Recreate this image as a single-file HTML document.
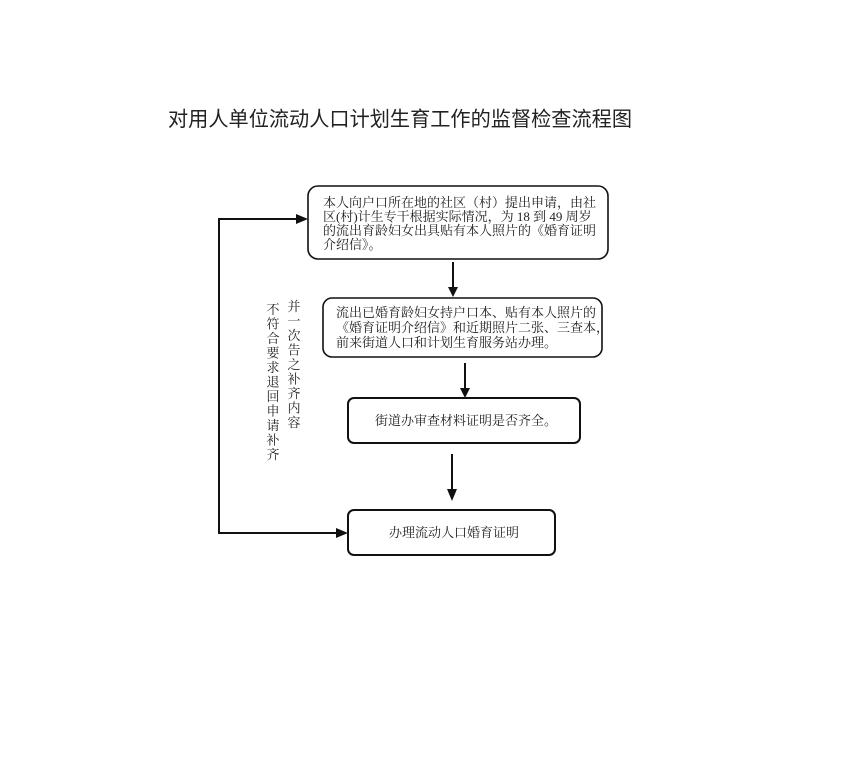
<!DOCTYPE html>
<html><head><meta charset="utf-8"><style>
html,body{margin:0;padding:0;background:#fff;}
svg{display:block;}
text{font-family:"Liberation Serif","Noto Serif CJK SC",serif;fill:#222;}
</style></head><body>
<svg width="847" height="779" viewBox="0 0 847 779" xmlns="http://www.w3.org/2000/svg">
<text x="168" y="126" font-size="20.5" textLength="464" lengthAdjust="spacingAndGlyphs" style="font-family:'Liberation Sans','Noto Sans CJK SC',sans-serif">对用人单位流动人口计划生育工作的监督检查流程图</text>

<g fill="none" stroke="#111" stroke-width="1.6">
<rect x="308" y="186" width="300" height="73" rx="10"/>
<rect x="323" y="298" width="279" height="59" rx="9"/>
<rect x="348" y="398" width="232" height="45" rx="6" stroke-width="2"/>
<rect x="348" y="510" width="207" height="45" rx="6" stroke-width="2"/>
</g>
<g stroke="#111" stroke-width="2" fill="none">
<line x1="453" y1="262" x2="453" y2="288"/>
<line x1="465" y1="363" x2="465" y2="390"/>
<line x1="452" y1="454" x2="452" y2="490"/>
<polyline points="298,219 219,219 219,533 338,533"/>
</g>
<g fill="#111">
<polygon points="448,287 458,287 453,297"/>
<polygon points="460,388 470,388 465,398"/>
<polygon points="447,489 457,489 452,501"/>
<polygon points="296,214 308,219 296,224"/>
<polygon points="336,528 348,533 336,538"/>
</g>

<g font-size="13">
<text x="323" y="207">本人向户口所在地的社区（村）提出申请，由社</text>
<text x="323" y="221">区(村)计生专干根据实际情况，为 18 到 49 周岁</text>
<text x="323" y="235">的流出育龄妇女出具贴有本人照片的《婚育证明</text>
<text x="323" y="249">介绍信》。</text>
<text x="336" y="317">流出已婚育龄妇女持户口本、贴有本人照片的</text>
<text x="336" y="332">《婚育证明介绍信》和近期照片二张、三查本，</text>
<text x="336" y="347">前来街道人口和计划生育服务站办理。</text>
<text x="375" y="425">街道办审查材料证明是否齐全。</text>
<text x="389" y="537">办理流动人口婚育证明</text>
</g>
<g font-size="13" text-anchor="middle">
<text x="273" y="314">不</text><text x="273" y="328.5">符</text><text x="273" y="343">合</text><text x="273" y="357.5">要</text><text x="273" y="372">求</text><text x="273" y="386.5">退</text><text x="273" y="401">回</text><text x="273" y="415.5">申</text><text x="273" y="430">请</text><text x="273" y="444.5">补</text><text x="273" y="459">齐</text>
<text x="294" y="311">并</text><text x="294" y="325.5">一</text><text x="294" y="340">次</text><text x="294" y="354.5">告</text><text x="294" y="369">之</text><text x="294" y="383.5">补</text><text x="294" y="398">齐</text><text x="294" y="412.5">内</text><text x="294" y="427">容</text>
</g>
</svg>
</body></html>
